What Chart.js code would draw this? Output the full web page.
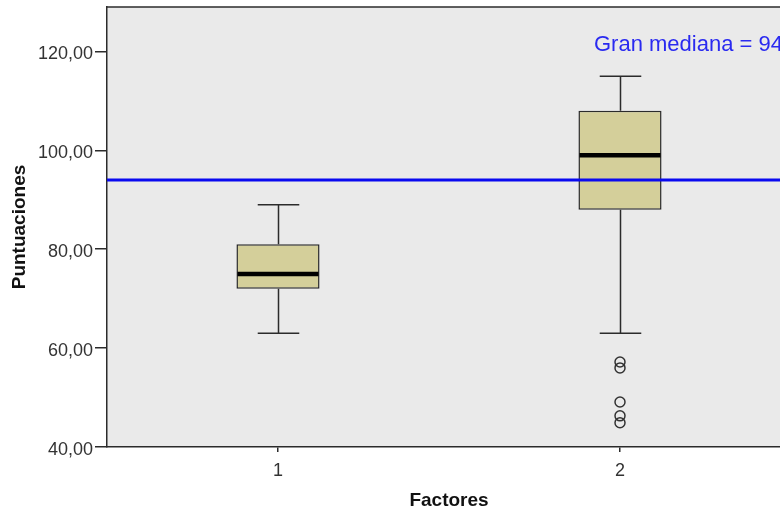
<!DOCTYPE html>
<html>
<head>
<meta charset="utf-8">
<script src="https://cdn.jsdelivr.net/npm/chart.js@4.4.1/dist/chart.umd.min.js"></script>
<style>
html, body { margin: 0; padding: 0; background: #fff; overflow: hidden; }
canvas { display: block; }
</style>
</head>
<body>
<canvas id="chart" width="800" height="512"></canvas>
<script>
const factores = ['1', '2'];
const cuartilInf = [72, 88];
const cuartilSup = [81, 108];
const medianas = [75, 99];
const bigoteInf = [63, 63];
const bigoteSup = [89, 115];
const atipicosFactor = ['2', '2', '2', '2', '2'];
const atipicosValor = [57.2, 56.0, 49.1, 46.3, 44.9];
const granMediana = 94;
const yTicks = [40, 60, 80, 100, 120];

const fuente = 'Liberation Sans, Arial, sans-serif';
const lineaColor = '#2b2b2b';

const cajaPlugin = {
    id: 'cajaPlugin',
    beforeDraw(chart) {
        const { ctx, chartArea: a } = chart;
        ctx.save();
        ctx.fillStyle = '#eaeaea';
        ctx.fillRect(a.left, a.top, a.right - a.left, a.bottom - a.top);
        ctx.restore();
    },
    afterDatasetsDraw(chart) {
        const { ctx, chartArea: a, scales: { x, y } } = chart;
        const barras = chart.getDatasetMeta(0).data;
        ctx.save();
        ctx.strokeStyle = lineaColor;
        ctx.lineWidth = 1.5;
        factores.forEach((f, i) => {
            const cx = Math.round(x.getPixelForValue(i)) + 0.5;
            const mitad = barras[i].width / 2;
            const tapa = mitad / 2;
            // bigotes
            ctx.beginPath();
            ctx.moveTo(cx, y.getPixelForValue(cuartilSup[i]));
            ctx.lineTo(cx, y.getPixelForValue(bigoteSup[i]));
            ctx.moveTo(cx - tapa, y.getPixelForValue(bigoteSup[i]));
            ctx.lineTo(cx + tapa, y.getPixelForValue(bigoteSup[i]));
            ctx.moveTo(cx, y.getPixelForValue(cuartilInf[i]));
            ctx.lineTo(cx, y.getPixelForValue(bigoteInf[i]));
            ctx.moveTo(cx - tapa, y.getPixelForValue(bigoteInf[i]));
            ctx.lineTo(cx + tapa, y.getPixelForValue(bigoteInf[i]));
            ctx.stroke();
            // mediana
            ctx.save();
            ctx.strokeStyle = '#000';
            ctx.lineWidth = 4.5;
            ctx.beginPath();
            ctx.moveTo(barras[i].x - mitad + 1, y.getPixelForValue(medianas[i]));
            ctx.lineTo(barras[i].x + mitad - 1, y.getPixelForValue(medianas[i]));
            ctx.stroke();
            ctx.restore();
        });

        // línea de la gran mediana
        const ym = y.getPixelForValue(granMediana);
        ctx.strokeStyle = '#0a0af0';
        ctx.lineWidth = 3;
        ctx.beginPath();
        ctx.moveTo(a.left, ym);
        ctx.lineTo(a.right, ym);
        ctx.stroke();

        ctx.fillStyle = '#2a2af0';
        ctx.font = '22px ' + fuente;
        ctx.textBaseline = 'alphabetic';
        ctx.textAlign = 'left';
        ctx.fillText('Gran mediana = ' + granMediana, a.left + 487, a.top + 44);

        // borde superior
        ctx.strokeStyle = lineaColor;
        ctx.lineWidth = 1.5;
        ctx.beginPath();
        ctx.moveTo(a.left, a.top);
        ctx.lineTo(a.right, a.top);
        ctx.stroke();
        ctx.restore();
    }
};

new Chart(document.getElementById('chart'), {
    type: 'bar',
    data: {
        labels: factores,
        datasets: [{
            data: factores.map((f, i) => [cuartilInf[i], cuartilSup[i]]),
            backgroundColor: '#d4cf9a',
            borderColor: lineaColor,
            borderWidth: 1.5,
            borderSkipped: false,
            barPercentage: 0.243,
            categoryPercentage: 1
        }, {
            type: 'scatter',
            data: atipicosValor.map((v, i) => ({ x: atipicosFactor[i], y: v })),
            pointStyle: 'circle',
            radius: 5,
            borderColor: '#333',
            borderWidth: 1.5,
            backgroundColor: 'rgba(0,0,0,0)'
        }]
    },
    options: {
        responsive: false,
        animation: false,
        layout: { padding: { top: 7, right: 9, left: 0, bottom: 0 } },
        plugins: {
            legend: { display: false },
            tooltip: { enabled: false }
        },
        scales: {
            x: {
                type: 'category',
                offset: true,
                grid: {
                    offset: false,
                    drawOnChartArea: false,
                    drawTicks: true,
                    tickLength: 5,
                    color: lineaColor,
                    lineWidth: 1.5
                },
                border: { display: true, color: lineaColor, width: 1.5 },
                ticks: {
                    color: '#333',
                    font: { size: 18, family: fuente },
                    padding: 8,
                    maxRotation: 0,
                    autoSkip: false
                },
                title: {
                    display: true,
                    text: 'Factores',
                    color: '#111',
                    font: { size: 19, weight: 'bold', family: fuente },
                    padding: { top: 0, bottom: 0 }
                },
                afterFit(s) {
                    s.height = 65;
                    s.paddingLeft = 0;
                    s.paddingRight = 0;
                }
            },
            y: {
                min: 40,
                max: 129,
                afterBuildTicks(s) { s.ticks = yTicks.map(v => ({ value: v })); },
                grid: {
                    drawOnChartArea: false,
                    drawTicks: true,
                    tickLength: 12,
                    color: lineaColor,
                    lineWidth: 1.5
                },
                border: { display: true, color: lineaColor, width: 1.5 },
                ticks: {
                    color: '#333',
                    font: { size: 18, family: fuente },
                    padding: 2,
                    labelOffset: 3,
                    callback: v => v.toFixed(2).replace('.', ',')
                },
                title: {
                    display: true,
                    text: 'Puntuaciones',
                    color: '#111',
                    font: { size: 19, weight: 'bold', family: fuente },
                    padding: { top: 8, bottom: 0 }
                },
                afterFit(s) {
                    s.width = 107;
                    s.paddingTop = 0;
                    s.paddingBottom = 0;
                }
            }
        }
    },
    plugins: [cajaPlugin]
});
</script>
</body>
</html>
